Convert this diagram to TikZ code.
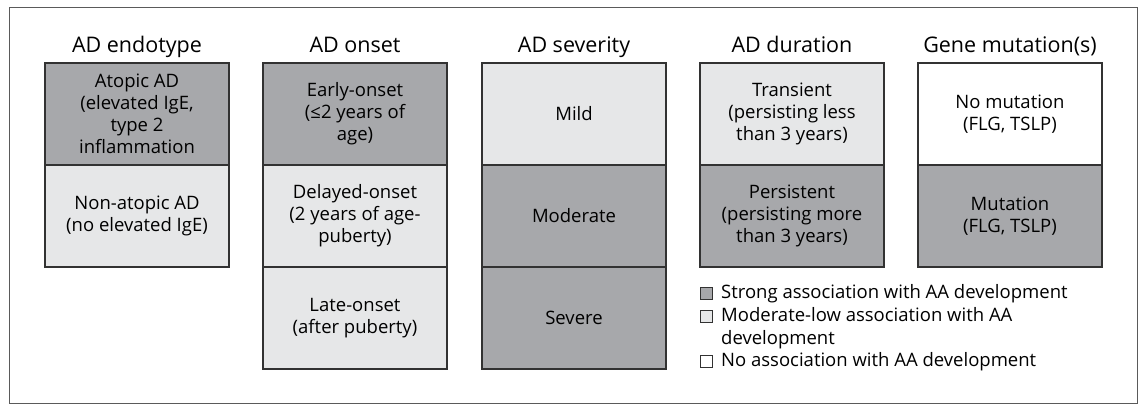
\documentclass[tikz,border=0pt]{standalone}
\usepackage{fontspec}
\setmainfont{Open Sans}
\usetikzlibrary{positioning}
\definecolor{strongfill}{RGB}{167,168,171}
\definecolor{lowfill}{RGB}{230,231,232}
\definecolor{boxline}{RGB}{50,50,50}
\definecolor{frameline}{RGB}{90,90,90}

\begin{document}
\begin{tikzpicture}[x=1pt,y=1pt,
    cell/.style={draw=boxline, line width=1.4pt, outer sep=0pt, inner sep=0pt,
      minimum width=184pt, minimum height=102pt, align=center,
      font=\fontsize{18.5}{22}\selectfont},
    strongbox/.style={cell, fill=strongfill},
    lowbox/.style={cell, fill=lowfill},
    nobox/.style={cell, fill=white},
    heading/.style={anchor=base, font=\fontsize{21.5}{24}\selectfont},
    keybox/.style={draw=boxline, line width=1pt, minimum size=12pt, inner sep=0pt, outer sep=0pt},
    keytext/.style={anchor=west, align=left, inner sep=0pt, font=\fontsize{18.5}{22.5}\selectfont}]
  \useasboundingbox (0,0) rectangle (1143,404);
  \draw[line width=0.9pt, draw=frameline] (9,1) rectangle (1137,396.5);

  \node[heading] (endoT) at (137,351) {AD endotype};
  \node[heading] (onsetT) at (355,351) {AD onset};
  \node[heading] (sevT) at (574,351) {AD severity};
  \node[heading] (durT) at (792,351) {AD duration};
  \node[heading] (geneT) at (1010,351) {Gene mutation(s)};

  \node[strongbox] (endo1) at (137,290) {Atopic AD\\(elevated IgE,\\type 2\\inflammation};
  \node[lowbox, below=0pt of endo1] (endo2) {Non-atopic AD\\(no elevated IgE)};

  \node[strongbox] (onset1) at (355,290) {Early-onset\\(≤2 years of\\age)};
  \node[lowbox, below=0pt of onset1] (onset2) {Delayed-onset\\(2 years of age-\\puberty)};
  \node[lowbox, below=0pt of onset2] (onset3) {Late-onset\\(after puberty)};

  \node[lowbox] (sev1) at (574,290) {Mild};
  \node[strongbox, below=0pt of sev1] (sev2) {Moderate};
  \node[strongbox, below=0pt of sev2] (sev3) {Severe};

  \node[lowbox] (dur1) at (792,290) {Transient\\(persisting less\\than 3 years)};
  \node[strongbox, below=0pt of dur1] (dur2) {Persistent\\(persisting more\\than 3 years)};

  \node[nobox] (gene1) at (1010,290) {No mutation\\(FLG, TSLP)};
  \node[strongbox, below=0pt of gene1] (gene2) {Mutation\\(FLG, TSLP)};

  \node[keybox, fill=strongfill] (key1) at (706.5,110) {};
  \node[keybox, fill=lowfill] (key2) at (706.5,87) {};
  \node[keybox, fill=white] (key3) at (706.5,42) {};
  \node[keytext] (keyT1) at (721,110) {Strong association with AA development};
  \node[keytext] (keyT2) at (721,76) {Moderate-low association with AA\\development};
  \node[keytext] (keyT3) at (721,42) {No association with AA development};
\end{tikzpicture}
\end{document}
